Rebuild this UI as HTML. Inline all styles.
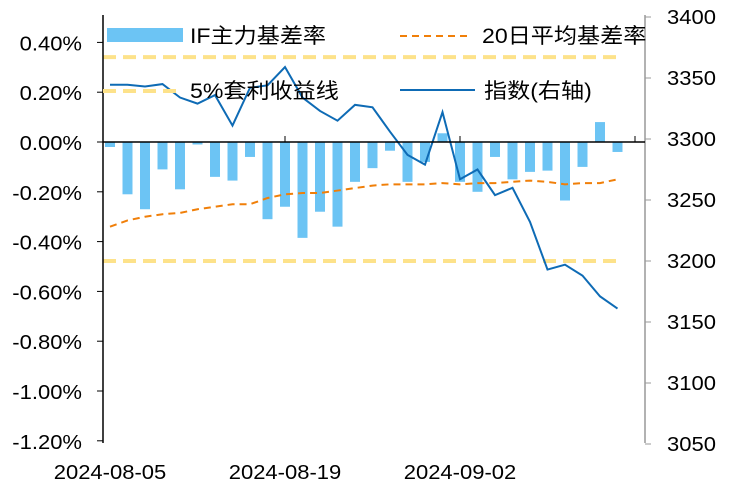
<!DOCTYPE html>
<html><head><meta charset="utf-8"><style>
body{margin:0;background:#fff}
svg text{font-family:"Liberation Sans","Noto Sans CJK SC",sans-serif;fill:#000}
</style></head><body>
<svg id="c" width="732" height="492"></svg>
<script>
const dates=["2024-08-05","2024-08-19","2024-09-02"];
const dateIdx=[0,10,20];
const basis=[-0.02,-0.21,-0.27,-0.11,-0.19,-0.01,-0.14,-0.155,-0.06,-0.31,-0.26,-0.385,-0.28,-0.34,-0.16,-0.105,-0.035,-0.16,-0.08,0.035,-0.16,-0.2,-0.06,-0.15,-0.12,-0.115,-0.235,-0.10,0.08,-0.04];
const avg20=[-0.34,-0.315,-0.30,-0.29,-0.285,-0.27,-0.26,-0.25,-0.25,-0.225,-0.21,-0.205,-0.205,-0.195,-0.185,-0.175,-0.17,-0.17,-0.17,-0.165,-0.17,-0.165,-0.165,-0.16,-0.155,-0.16,-0.17,-0.165,-0.165,-0.15];
const indexVals=[3344.5,3344.5,3343,3345,3334,3329,3336,3311,3342,3344,3359,3334,3323,3315,3328,3326,3306,3287,3279,3322,3267,3275,3254,3260,3232,3193,3197,3188,3171,3161];
const arbLines=[0.341,-0.478];
const leftTicks=[0.4,0.2,0,-0.2,-0.4,-0.6,-0.8,-1.0,-1.2];
const rightTicks=[3400,3350,3300,3250,3200,3150,3100,3050];
const NS="http://www.w3.org/2000/svg",svg=document.getElementById('c');
function el(t,a,txt){const e=document.createElementNS(NS,t);for(const k in a)e.setAttribute(k,a[k]);if(txt!==undefined)e.textContent=txt;svg.appendChild(e);return e;}
function stretch(t){const w=t.getComputedTextLength();t.setAttribute('textLength',w*1.1);t.setAttribute('lengthAdjust','spacingAndGlyphs');}
const xS=i=>110+i*17.5;
const yL=v=>142-v*249;
const yR=v=>17+(3400-v)*1.22;
arbLines.forEach((v,i)=>{const e=el('line',{x1:103,x2:622,y1:yL(v),y2:yL(v),stroke:'#fde28a','stroke-width':4,'stroke-dasharray':'13,7'});

});
basis.forEach((v,i)=>{const y=Math.min(yL(v),142),h=Math.abs(yL(v)-142);const b=el('rect',{x:xS(i)-5,y:y,width:10,height:h,fill:'#6cc4f4'});

});
let p=el('polyline',{points:avg20.map((v,i)=>xS(i)+','+yL(v)).join(' '),fill:'none',stroke:'#f07f09','stroke-width':2,'stroke-dasharray':'7,5'});


p=el('polyline',{points:indexVals.map((v,i)=>xS(i)+','+yR(v)).join(' '),fill:'none',stroke:'#0e6bb5','stroke-width':2});


el('line',{x1:103,x2:103,y1:15,y2:443,stroke:'#000','stroke-width':1.5});
el('line',{x1:645,x2:645,y1:15,y2:443,stroke:'#999','stroke-width':1.5});
el('line',{x1:103,x2:645,y1:142,y2:142,stroke:'#000','stroke-width':1.5});
leftTicks.forEach(v=>{el('line',{x1:97,x2:103,y1:yL(v),y2:yL(v),stroke:'#000'});
const t=el('text',{x:82,y:yL(v)+8,'text-anchor':'end','font-size':20},v.toFixed(2)+'%');stretch(t);

});
rightTicks.forEach(v=>{el('line',{x1:645,x2:651,y1:yR(v),y2:yR(v),stroke:'#999'});
const t=el('text',{x:667,y:yR(v)+7,'font-size':20},v);stretch(t);

});
[10,20,30].forEach(i=>el('line',{x1:xS(i),x2:xS(i),y1:136,y2:142,stroke:'#000'}));
dates.forEach((d,k)=>{const t=el('text',{x:xS(dateIdx[k]),y:479,'text-anchor':'middle','font-size':20},d);stretch(t);

});
el('rect',{x:107,y:28,width:76,height:14,fill:'#6cc4f4'});
let t=el('text',{x:190,y:43,'font-size':21},'IF主力基差率');stretch(t);


el('line',{x1:400,x2:472,y1:36,y2:36,stroke:'#f07f09','stroke-width':2,'stroke-dasharray':'7,5'});
t=el('text',{x:482,y:43,'font-size':21},'20日平均基差率');stretch(t);


el('line',{x1:103,x2:180,y1:91,y2:91,stroke:'#fde28a','stroke-width':4,'stroke-dasharray':'13,7'});
t=el('text',{x:190,y:98,'font-size':21},'5%套利收益线');stretch(t);


el('line',{x1:400,x2:475,y1:90,y2:90,stroke:'#0e6bb5','stroke-width':2});
t=el('text',{x:484,y:98,'font-size':21},'指数(右轴)');stretch(t);


</script>
</body></html>
